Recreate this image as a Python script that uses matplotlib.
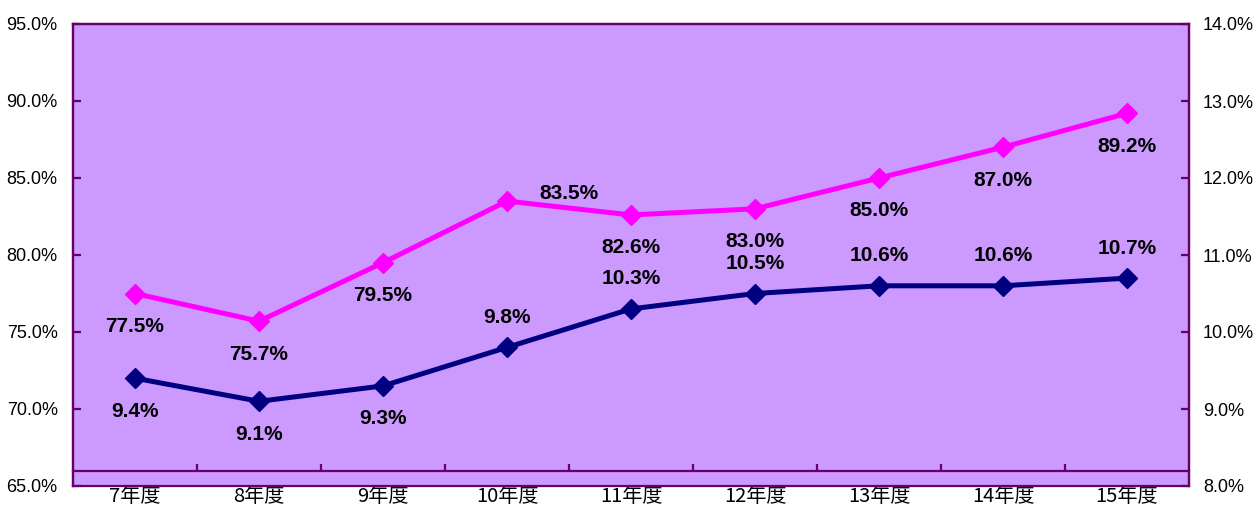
import matplotlib
matplotlib.use('Agg')
import matplotlib.pyplot as plt
from matplotlib.ticker import FixedLocator, FuncFormatter

# --- data ---
categories = ["7年度", "8年度", "9年度", "10年度", "11年度", "12年度", "13年度", "14年度", "15年度"]
pink_values = [77.5, 75.7, 79.5, 83.5, 82.6, 83.0, 85.0, 87.0, 89.2]   # left axis
navy_values = [9.4, 9.1, 9.3, 9.8, 10.3, 10.5, 10.6, 10.6, 10.7]      # right axis
left_ticks = [65, 70, 75, 80, 85, 90, 95]
right_ticks = [8, 9, 10, 11, 12, 13, 14]

# label placement per point (style, not data)
pink_label_pos = ["below", "below", "below", "right", "below", "below", "below", "below", "below"]
navy_label_pos = ["below", "below", "below", "above", "above", "above", "above", "above", "above"]

BG = "#CC99FF"
FRAME = "#660066"
PINK = "#FF00FF"
NAVY = "#000080"
px = 0.72  # points per pixel at dpi 100

text_family = ['Liberation Sans', 'DejaVu Sans']
tick_size, label_size = 13, 15

fig = plt.figure(figsize=(12.53, 5.07), dpi=100)
ax = fig.add_axes([73 / 1253, 1 - 486 / 507, (1189 - 73) / 1253, (486 - 24) / 507])
ax.set_facecolor(BG)
ax2 = ax.twinx()

x = list(range(len(categories)))
ax.set_xlim(-0.5, len(categories) - 0.5)
ax.set_ylim(65, 95)
ax2.set_ylim(8, 14)

ax.plot(x, pink_values, color=PINK, lw=3.6, marker='D', ms=10, zorder=3)
ax2.plot(x, navy_values, color=NAVY, lw=3.6, marker='D', ms=10, zorder=3)

# x axis line sits slightly above the frame bottom
ax.spines['bottom'].set_position(('data', 66.0))
for sp in list(ax.spines.values()) + list(ax2.spines.values()):
    sp.set_color(FRAME)
    sp.set_linewidth(1.6)

ax.set_yticks(left_ticks)
ax.yaxis.set_major_formatter(FuncFormatter(lambda v, p: f"{v:.1f}%"))
ax.tick_params(axis='y', direction='in', length=6, width=1.6, color=FRAME, pad=11)
ax2.set_yticks(right_ticks)
ax2.yaxis.set_major_formatter(FuncFormatter(lambda v, p: f"{v:.1f}%"))
ax2.tick_params(axis='y', direction='in', length=6, width=1.6, color=FRAME, pad=10)
for lab in ax.get_yticklabels() + ax2.get_yticklabels():
    lab.set_family(text_family)
    lab.set_fontsize(tick_size)

ax.set_xticks(x)
ax.set_xticklabels(categories, family=['Noto Sans CJK JP', 'DejaVu Sans'], fontsize=14.5)
ax.xaxis.set_minor_locator(FixedLocator([i + 0.5 for i in x[:-1]]))
ax.tick_params(axis='x', which='major', length=0, pad=11)
ax.tick_params(axis='x', which='minor', direction='in', length=5, width=1.6, color=FRAME)
ax2.tick_params(axis='x', which='both', length=0, labelbottom=False)

offsets = {"below": (0, -33 * px), "above": (0, 30 * px), "right": (62 * px, 8 * px)}

for xi, v, pos in zip(x, pink_values, pink_label_pos):
    ax2.annotate(f"{v:.1f}%", xy=(xi, v), xycoords=ax.transData, xytext=offsets[pos],
                 textcoords='offset points', ha='center', va='center', zorder=5,
                 family=text_family, size=label_size, weight='bold')
for xi, v, pos in zip(x, navy_values, navy_label_pos):
    ax2.annotate(f"{v:.1f}%", xy=(xi, v), xytext=offsets[pos],
                 textcoords='offset points', ha='center', va='center', zorder=5,
                 family=text_family, size=label_size, weight='bold')

fig.savefig("out.png", dpi=100)
